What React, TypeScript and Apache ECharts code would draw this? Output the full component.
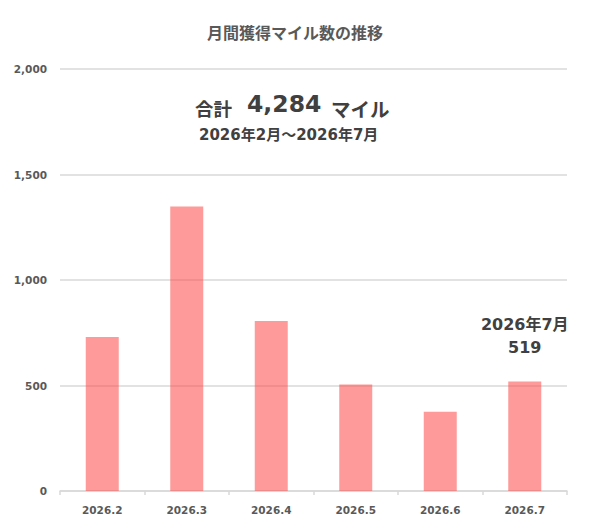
import React, { useEffect, useRef } from "react";
import * as echarts from "echarts";

const categories = ["2026.2", "2026.3", "2026.4", "2026.5", "2026.6", "2026.7"];
const miles = [730, 1348, 806, 505, 376, 519];
const yTicks = { min: 0, max: 2000, interval: 500 };
const titleText = "月間獲得マイル数の推移";
const totalLabel = "合計";
const unitLabel = "マイル";
const periodText = "2026年2月～2026年7月";
const lastLabelTitle = "2026年7月";

const JP = '"Noto Sans CJK JP", "Noto Sans", sans-serif';
const MIX = '"DejaVu Sans", "Noto Sans CJK JP", sans-serif';
const NUM = '"DejaVu Sans", sans-serif';

export default function App() {
  const ref = useRef<HTMLDivElement>(null);
  useEffect(() => {
    if (!ref.current) return;
    const chart = echarts.init(ref.current, null, { renderer: "svg" });
    const total = miles.reduce((a, b) => a + b, 0);
    const lastIdx = miles.length - 1;
    chart.setOption({
      animation: false,
      backgroundColor: "#ffffff",
      title: {
        text: titleText,
        left: "center",
        top: 19,
        textStyle: { fontFamily: JP, fontSize: 16, fontWeight: "bold", color: "#595959" },
      },
      grid: { left: 60, right: 23, top: 69, bottom: 40 },
      xAxis: {
        type: "category",
        data: categories,
        axisLine: { lineStyle: { color: "#d9d9d9", width: 1.5 } },
        axisTick: { show: true, length: 4, lineStyle: { color: "#d9d9d9", width: 1.5 } },
        axisLabel: { fontFamily: NUM, fontSize: 10.5, fontWeight: "bold", color: "#595959", margin: 13 },
      },
      yAxis: {
        type: "value",
        min: yTicks.min,
        max: yTicks.max,
        interval: yTicks.interval,
        axisLine: { show: false },
        axisTick: { show: false },
        splitLine: { lineStyle: { color: "#d9d9d9", width: 1.5 } },
        axisLabel: {
          fontFamily: NUM,
          fontSize: 10.5,
          fontWeight: "bold",
          color: "#595959",
          margin: 13,
          formatter: (v: number) => v.toLocaleString("en-US"),
        },
      },
      graphic: [
        {
          type: "text",
          x: 195,
          y: 108,
          style: {
            text: totalLabel,
            fontFamily: JP,
            fontSize: 18.5,
            fontWeight: "bold",
            fill: "#404040",
            align: "left",
            verticalAlign: "middle",
          },
        },
        {
          type: "text",
          x: 247,
          y: 104,
          style: {
            text: total.toLocaleString("en-US"),
            fontFamily: NUM,
            fontSize: 23.5,
            fontWeight: "bold",
            fill: "#404040",
            align: "left",
            verticalAlign: "middle",
          },
        },
        {
          type: "text",
          x: 331,
          y: 108.5,
          style: {
            text: unitLabel,
            fontFamily: JP,
            fontSize: 19.5,
            fontWeight: "bold",
            fill: "#404040",
            align: "left",
            verticalAlign: "middle",
          },
        },
        {
          type: "text",
          x: 199,
          y: 134.5,
          style: {
            text: periodText,
            fontFamily: MIX,
            fontSize: 15,
            fontWeight: "bold",
            fill: "#404040",
            align: "left",
            verticalAlign: "middle",
          },
        },
      ],
      series: [
        {
          type: "bar",
          barWidth: 33,
          data: miles.map((v, i) =>
            i === lastIdx
              ? {
                  value: v,
                  label: {
                    show: true,
                    position: "top",
                    distance: 22,
                    formatter: `${lastLabelTitle}\n${v}`,
                    fontFamily: MIX,
                    fontSize: 16,
                    fontWeight: "bold",
                    color: "#404040",
                    lineHeight: 23,
                    align: "center",
                  },
                }
              : v
          ),
          itemStyle: { color: "rgba(255,77,77,0.57)" },
        },
      ],
    });
    return () => chart.dispose();
  }, []);
  return (
    <div
      ref={ref}
      style={{ position: "fixed", left: 0, top: 0, width: 590, height: 531 }}
    />
  );
}
